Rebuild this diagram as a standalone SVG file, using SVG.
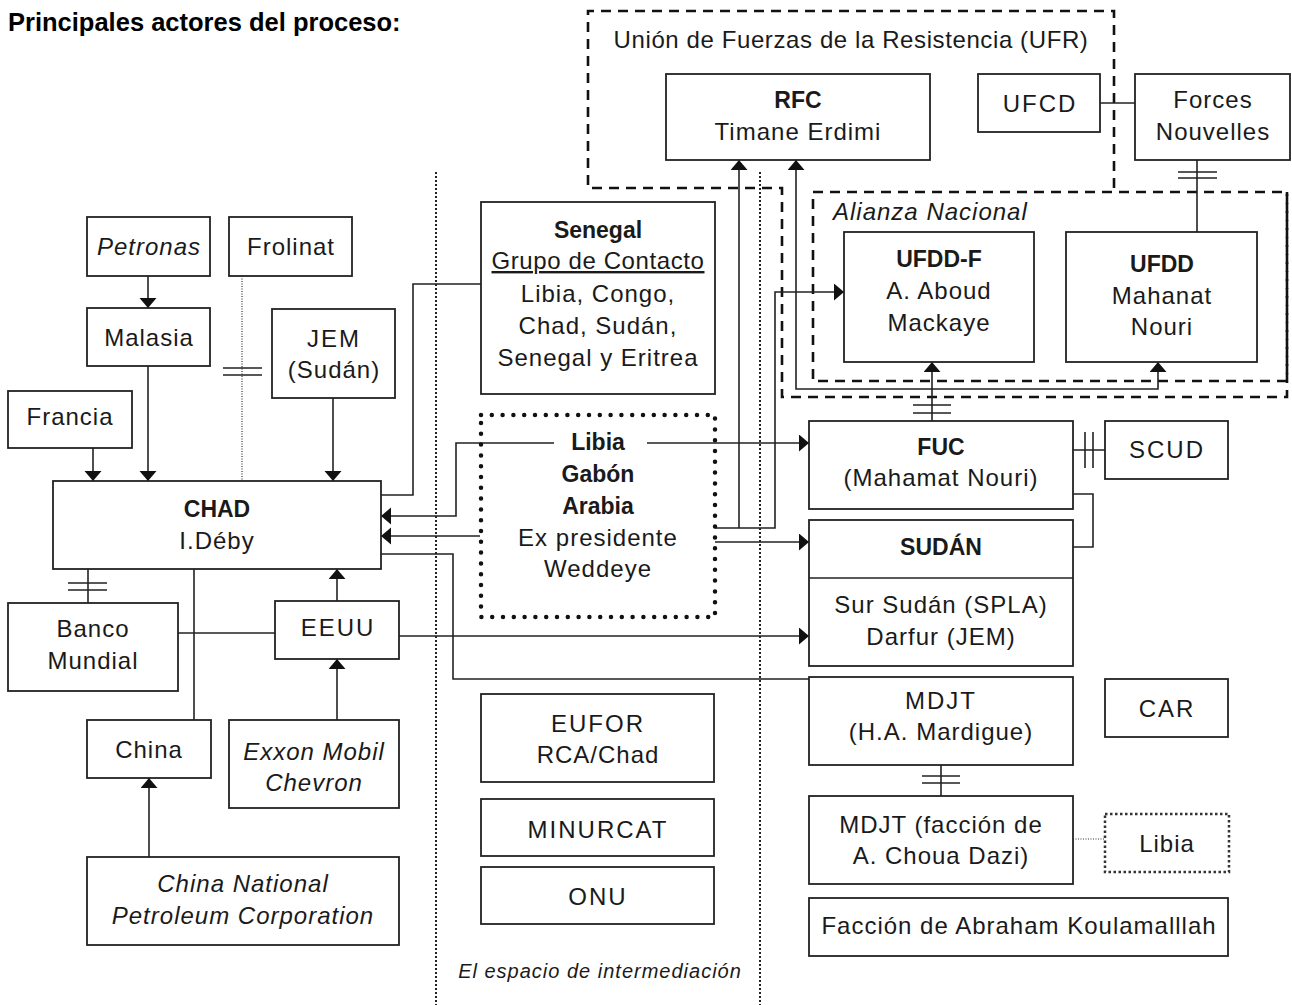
<svg xmlns="http://www.w3.org/2000/svg" width="1292" height="1005" viewBox="0 0 1292 1005">
<defs>
<marker id="ah" markerUnits="userSpaceOnUse" markerWidth="11" markerHeight="18" refX="10" refY="8.5" orient="auto-start-reverse" viewBox="0 0 11 18">
<path d="M0,0 L10,8.5 L0,17 z" fill="#111"/>
</marker>
<style>
text{font-family:"Liberation Sans",Arial,sans-serif;font-size:24px;fill:#1a1a1a;letter-spacing:1px;text-anchor:middle}
.b{font-weight:bold;font-size:23px;letter-spacing:0}
.i{font-style:italic}
.w{letter-spacing:2px}
.box{fill:#fff;stroke:#222;stroke-width:1.8}
.ln{fill:none;stroke:#222;stroke-width:1.6}
.ar{marker-end:url(#ah)}
.ar2{marker-start:url(#ah);marker-end:url(#ah)}
.dash{fill:none;stroke:#111;stroke-width:2.6;stroke-dasharray:10 7}
.dots{fill:none;stroke:#111;stroke-width:4.5;stroke-dasharray:0 10.8;stroke-linecap:round}
.fine{fill:none;stroke:#333;stroke-width:2.5;stroke-dasharray:2.5 2.5}
.thin{fill:none;stroke:#333;stroke-width:1.2;stroke-dasharray:1 1.5}
.sep{fill:none;stroke:#222;stroke-width:2;stroke-dasharray:2 2}
</style>
</defs>
<rect width="1292" height="1005" fill="#fff"/>
<text x="8" y="31" style="font-weight:bold;font-size:25.5px;letter-spacing:0;text-anchor:start;fill:#000">Principales actores del proceso:</text>

<g id="groups">
<path class="dash" d="M1114,188 V11 H588 V188 H782 V397 H1287 V192"/>
<rect class="dash" x="813" y="192" width="474" height="189"/>
<text x="851" y="48" style="letter-spacing:0.6px">Unión de Fuerzas de la Resistencia (UFR)</text>
<text class="i" x="833" y="220" style="text-anchor:start">Alianza Nacional</text>
<line class="sep" x1="436" y1="172" x2="436" y2="1005"/>
<line class="sep" x1="760" y1="172" x2="760" y2="1005"/>
<text class="i" x="600" y="978" style="font-size:20px">El espacio de intermediación</text>
</g>

<g id="connectors">
<path class="ln ar" d="M148,276 V308"/>
<path class="ln ar" d="M148,366 V481"/>
<path class="ln ar" d="M93,448 V481"/>
<path class="ln ar" d="M333,398 V481"/>
<path class="thin" d="M242,276 V481"/>
<path class="ln" d="M223,368 H262 M223,375 H262"/>
<path class="ln" d="M88,569 V603 M68,583 H107 M68,590 H107"/>
<path class="ln" d="M194,569 V720"/>
<path class="ln" d="M178,633 H275"/>
<path class="ln ar" d="M337,601 V569"/>
<path class="ln ar" d="M337,720 V659"/>
<path class="ln ar" d="M149,857 V778"/>
<path class="ln ar" d="M399,636 H809"/>
<path class="ln" d="M481,284 H413 V495 H381"/>
<path class="ln ar" d="M554,443 H456 V516 H381"/>
<path class="ln ar" d="M480,536 H381"/>
<path class="ln" d="M381,554 H453 V679 H809"/>
<path class="ln ar" d="M647,443 H809"/>
<path class="ln ar" d="M715,542 H809"/>
<path class="ln ar" d="M715,528 H775 V292 H844"/>
<path class="ln ar" d="M739,528 V160"/>
<path class="ln ar2" d="M796,160 V389 H1158 V362"/>
<path class="ln ar" d="M932,421 V362"/>
<path class="ln" d="M913,405 H951 M913,413 H951"/>
<path class="ln" d="M1073,494 H1093 V547 H1073"/>
<path class="ln" d="M1073,450 H1105 M1085,432 V468 M1093,432 V468"/>
<path class="ln" d="M941,765 V796 M922,776 H960 M922,783 H960"/>
<path class="thin" d="M1073,839 H1105"/>
<path class="ln" d="M1100,103 H1135"/>
<path class="ln" d="M1197,160 V232 M1178,172 H1217 M1178,178 H1217"/>
</g>

<g id="rfc"><rect class="box" x="666" y="74" width="264" height="86"/><text class="b" x="798" y="108">RFC</text><text x="798" y="140">Timane Erdimi</text></g>
<g id="ufcd"><rect class="box" x="978" y="74" width="122" height="58"/><text class="w" x="1040" y="112">UFCD</text></g>
<g id="forces"><rect class="box" x="1135" y="74" width="155" height="86"/><text x="1213" y="108">Forces</text><text x="1213" y="140">Nouvelles</text></g>
<g id="ufddf"><rect class="box" x="844" y="232" width="190" height="130"/><text class="b" x="939" y="267">UFDD-F</text><text x="939" y="299">A. Aboud</text><text x="939" y="331">Mackaye</text></g>
<g id="ufdd"><rect class="box" x="1066" y="232" width="191" height="130"/><text class="b" x="1162" y="272">UFDD</text><text x="1162" y="304">Mahanat</text><text x="1162" y="335">Nouri</text></g>
<g id="senegal"><rect class="box" x="481" y="202" width="234" height="192"/><text class="b" x="598" y="238">Senegal</text><text x="598" y="269" text-decoration="underline" style="letter-spacing:0.6px">Grupo de Contacto</text><text x="598" y="302">Libia, Congo,</text><text x="598" y="334">Chad, Sudán,</text><text x="598" y="366">Senegal y Eritrea</text></g>
<g id="petronas"><rect class="box" x="87" y="217" width="123" height="59"/><text class="i" x="149" y="255">Petronas</text></g>
<g id="frolinat"><rect class="box" x="229" y="217" width="123" height="59"/><text x="291" y="255">Frolinat</text></g>
<g id="malasia"><rect class="box" x="87" y="308" width="123" height="58"/><text x="149" y="346">Malasia</text></g>
<g id="jem"><rect class="box" x="272" y="309" width="123" height="89"/><text class="w" x="334" y="347">JEM</text><text x="334" y="378">(Sudán)</text></g>
<g id="francia"><rect class="box" x="8" y="391" width="124" height="57"/><text x="70" y="425">Francia</text></g>
<g id="chad"><rect class="box" x="53" y="481" width="328" height="88"/><text class="b" x="217" y="517">CHAD</text><text x="217" y="549">I.Déby</text></g>
<g id="libia-box"><rect class="dots" x="481" y="415" width="234" height="202"/><text class="b" x="598" y="450">Libia</text><text class="b" x="598" y="482">Gabón</text><text class="b" x="598" y="514">Arabia</text><text x="598" y="546">Ex presidente</text><text x="598" y="577">Weddeye</text></g>
<g id="fuc"><rect class="box" x="809" y="421" width="264" height="88"/><text class="b" x="941" y="455">FUC</text><text x="941" y="486">(Mahamat Nouri)</text></g>
<g id="scud"><rect class="box" x="1105" y="421" width="123" height="58"/><text class="w" x="1167" y="458">SCUD</text></g>
<g id="sudan"><rect class="box" x="809" y="520" width="264" height="146"/><line class="ln" x1="809" y1="578" x2="1073" y2="578"/><text class="b" x="941" y="555">SUDÁN</text><text x="941" y="613">Sur Sudán (SPLA)</text><text x="941" y="645">Darfur (JEM)</text></g>
<g id="banco"><rect class="box" x="8" y="603" width="170" height="88"/><text x="93" y="637">Banco</text><text x="93" y="669">Mundial</text></g>
<g id="eeuu"><rect class="box" x="275" y="601" width="124" height="58"/><text class="w" x="338" y="636">EEUU</text></g>
<g id="china"><rect class="box" x="87" y="720" width="124" height="58"/><text x="149" y="758">China</text></g>
<g id="exxon"><rect class="box" x="229" y="720" width="170" height="88"/><text class="i" x="314" y="760">Exxon Mobil</text><text class="i" x="314" y="791">Chevron</text></g>
<g id="cnpc"><rect class="box" x="87" y="857" width="312" height="88"/><text class="i" x="243" y="892">China National</text><text class="i" x="243" y="924">Petroleum Corporation</text></g>
<g id="eufor"><rect class="box" x="481" y="694" width="233" height="88"/><text class="w" x="598" y="732">EUFOR</text><text x="598" y="763">RCA/Chad</text></g>
<g id="minurcat"><rect class="box" x="481" y="799" width="233" height="57"/><text class="w" x="598" y="838">MINURCAT</text></g>
<g id="onu"><rect class="box" x="481" y="867" width="233" height="57"/><text class="w" x="598" y="905">ONU</text></g>
<g id="mdjt"><rect class="box" x="809" y="677" width="264" height="88"/><text class="w" x="941" y="709">MDJT</text><text x="941" y="740">(H.A. Mardigue)</text></g>
<g id="car"><rect class="box" x="1105" y="679" width="123" height="58"/><text class="w" x="1167" y="717">CAR</text></g>
<g id="mdjt-faccion"><rect class="box" x="809" y="796" width="264" height="88"/><text x="941" y="833">MDJT (facción de</text><text x="941" y="864">A. Choua Dazi)</text></g>
<g id="libia-small"><rect class="fine" x="1105" y="814" width="124" height="58"/><text x="1167" y="852">Libia</text></g>
<g id="koulamallah"><rect class="box" x="809" y="898" width="419" height="58"/><text x="1019" y="934">Facción de Abraham Koulamalllah</text></g>
</svg>
